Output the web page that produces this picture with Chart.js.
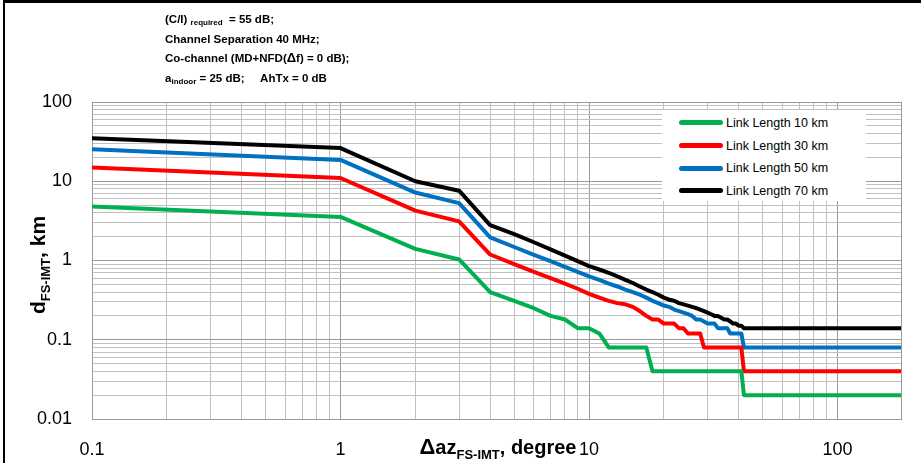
<!DOCTYPE html>
<html>
<head>
<meta charset="utf-8">
<script src="https://cdn.jsdelivr.net/npm/chart.js@4.4.1/dist/chart.umd.min.js"></script>
<style>
  html, body { margin: 0; padding: 0; background: #fff; }
  #wrap { position: relative; width: 921px; height: 463px; overflow: hidden; font-family: 'Liberation Sans', Arial, sans-serif; color: #000; }
  #wrap canvas { position: absolute; left: 0; top: 0; }
  .frame { position: absolute; background: #000; }
  #notes { position: absolute; left: 165px; top: 10px; font-weight: bold; font-size: 11.5px; line-height: 19.5px; white-space: pre; }
  #notes sub { font-size: 8px; vertical-align: -2px; line-height: 0; }
  #notes .big { font-size: 13px; line-height: 0; }
  #legend { position: absolute; left: 662px; top: 110px; width: 204px; height: 91px; background: #fff; }
  .item { position: absolute; left: 17px; height: 20px; font-size: 12.5px; line-height: 20px; white-space: nowrap; color: #000; }
  .item i { display: inline-block; width: 44px; height: 5px; border-radius: 3px; vertical-align: middle; margin-right: 3px; margin-top: -2px; }
  #xTitle { position: absolute; left: 92px; width: 812px; top: 436px; text-align: center; font-weight: bold; font-size: 20px; line-height: 22px; white-space: nowrap; }
  #yTitle { position: absolute; left: -62px; top: 252px; width: 200px; height: 26px; line-height: 26px; text-align: center; font-weight: bold; font-size: 21px; transform: rotate(-90deg); white-space: nowrap; }
  sub.ax { font-size: 13px; vertical-align: -5px; line-height: 0; }
</style>
</head>
<body>
<div id="wrap">
  <canvas id="chart" width="921" height="463"></canvas>
  <div class="frame" style="left:3px;top:0;width:918px;height:3px"></div>
  <div class="frame" style="left:3px;top:0;width:2px;height:463px"></div>
  <div id="notes">(C/I) <sub>required</sub>  = 55 dB;
Channel Separation 40 MHz;
Co-channel (MD+NFD(<span class="big">Δ</span>f) = 0 dB);
a<sub>indoor</sub> = 25 dB;     AhTx = 0 dB</div>
  <div id="legend"></div>
  <div id="xTitle"><span style="font-size:22px">Δ</span>az<sub class="ax">FS-IMT</sub>, degree</div>
  <div id="yTitle">d<sub class="ax">FS-IMT</sub>, km</div>
</div>
<script>
// azimuth offset, degree
const degrees = [0.1, 1, 2, 3, 4, 5, 6, 7, 8, 9, 10, 11, 12, 13, 14, 15, 16, 17, 18, 19, 20, 21,
  22, 23, 24, 25, 26, 27, 28, 29, 30, 31, 32, 33, 34, 35, 36, 37, 38, 39, 40, 41, 42, 180];

// separation distance, km
const link10 = [4.8, 3.55, 1.40, 1.03, 0.40, 0.31, 0.25, 0.20, 0.18, 0.14, 0.14, 0.12,
  0.08, 0.08, 0.08, 0.08, 0.08, 0.08,
  0.04, 0.04, 0.04, 0.04, 0.04, 0.04, 0.04, 0.04, 0.04, 0.04, 0.04, 0.04,
  0.04, 0.04, 0.04, 0.04, 0.04, 0.04, 0.04, 0.04, 0.04, 0.04, 0.04, 0.04,
  0.02, 0.02];
const link30 = [14.9, 11.0, 4.26, 3.12, 1.19, 0.90, 0.72, 0.60, 0.51, 0.44, 0.38, 0.34,
  0.31, 0.29, 0.28, 0.26, 0.23, 0.20, 0.18, 0.18, 0.16, 0.16, 0.16, 0.14, 0.14,
  0.12, 0.12, 0.12, 0.12,
  0.08, 0.08, 0.08, 0.08, 0.08, 0.08, 0.08, 0.08, 0.08, 0.08, 0.08, 0.08, 0.08,
  0.04, 0.04];
const link50 = [25.4, 18.6, 7.2, 5.3, 1.96, 1.48, 1.18, 0.98, 0.83, 0.72, 0.63, 0.57,
  0.51, 0.47, 0.43, 0.40, 0.37, 0.34, 0.31, 0.29, 0.27, 0.26, 0.24, 0.23, 0.22,
  0.21, 0.20, 0.18, 0.18, 0.17, 0.16, 0.16, 0.16, 0.14, 0.14, 0.14, 0.14,
  0.12, 0.12, 0.12, 0.12, 0.12, 0.08, 0.08];
const link70 = [34.9, 26.2, 10.0, 7.6, 2.80, 2.15, 1.70, 1.38, 1.15, 0.98, 0.85, 0.77,
  0.70, 0.63, 0.57, 0.52, 0.47, 0.43, 0.40, 0.37, 0.34, 0.32, 0.31, 0.29, 0.28,
  0.27, 0.26, 0.25, 0.24, 0.23, 0.22, 0.21, 0.20, 0.20, 0.19, 0.18, 0.18,
  0.17, 0.16, 0.16, 0.15, 0.15, 0.14, 0.14];

const seriesLabels = ['Link Length 10 km', 'Link Length 30 km', 'Link Length 50 km', 'Link Length 70 km'];
const seriesColors = ['#00b050', '#ff0000', '#0070c0', '#000000'];
const seriesValues = [link10, link30, link50, link70];

const xTickLabels = [0.1, 1, 10, 100];
const yTickLabels = [0.01, 0.1, 1, 10, 100];
const xMin = 0.1, xMax = 180, yMin = 0.01, yMax = 100;

// 1..9 x 10^k ticks so every grid line shows
function logTicks(min, max) {
  const out = [];
  for (let e = Math.floor(Math.log10(min)); Math.pow(10, e) <= max; e++) {
    for (let m = 1; m <= 9; m++) {
      const v = +(m * Math.pow(10, e)).toPrecision(3);
      if (v >= min && v <= max) out.push(v);
    }
  }
  if (out[out.length - 1] < max) out.push(max);
  return out;
}
const isDecade = v => Math.abs(Math.log10(v) - Math.round(Math.log10(v))) < 1e-9;
const gridColor = c => (c.tick && (isDecade(c.tick.value) || c.tick.value === xMax)) ? '#9a9a9a' : '#c0c0c0';

// legend
const legend = document.getElementById('legend');
seriesLabels.forEach((name, i) => {
  const d = document.createElement('div');
  d.className = 'item';
  d.style.top = (3 + i * 22.7) + 'px';
  d.innerHTML = '<i style="background:' + seriesColors[i] + '"></i>' + name;
  legend.appendChild(d);
});

new Chart(document.getElementById('chart'), {
  type: 'line',
  data: {
    datasets: seriesValues.map((vals, i) => ({
      label: seriesLabels[i],
      data: degrees.map((x, j) => ({ x: x, y: vals[j] })),
      borderColor: seriesColors[i],
      borderWidth: 4,
      pointRadius: 0,
      tension: 0,
      borderJoinStyle: 'round',
      borderCapStyle: 'round'
    }))
  },
  options: {
    responsive: false,
    animation: false,
    layout: { padding: { top: 102, right: 17, left: 0, bottom: 0 } },
    plugins: { legend: { display: false }, tooltip: { enabled: false } },
    scales: {
      x: {
        type: 'logarithmic',
        min: xMin, max: xMax,
        afterBuildTicks: s => { s.ticks = logTicks(xMin, xMax).map(v => ({ value: v })); },
        afterFit: s => { s.height = 44; },
        grid: { color: gridColor, lineWidth: 1, drawTicks: false },
        border: { color: '#9a9a9a' },
        ticks: {
          autoSkip: false, maxRotation: 0, padding: 20, color: '#000',
          font: { family: 'Liberation Sans', size: 18 },
          callback: v => xTickLabels.includes(v) ? String(v) : ''
        }
      },
      y: {
        type: 'logarithmic',
        min: yMin, max: yMax,
        afterBuildTicks: s => { s.ticks = logTicks(yMin, yMax).map(v => ({ value: v })); },
        afterFit: s => { s.width = 92; },
        grid: { color: gridColor, lineWidth: 1, drawTicks: false },
        border: { color: '#9a9a9a' },
        ticks: {
          autoSkip: false, padding: 20, color: '#000',
          font: { family: 'Liberation Sans', size: 18 },
          callback: v => yTickLabels.includes(v) ? String(v) : ''
        }
      }
    }
  }
});
</script>
</body>
</html>
